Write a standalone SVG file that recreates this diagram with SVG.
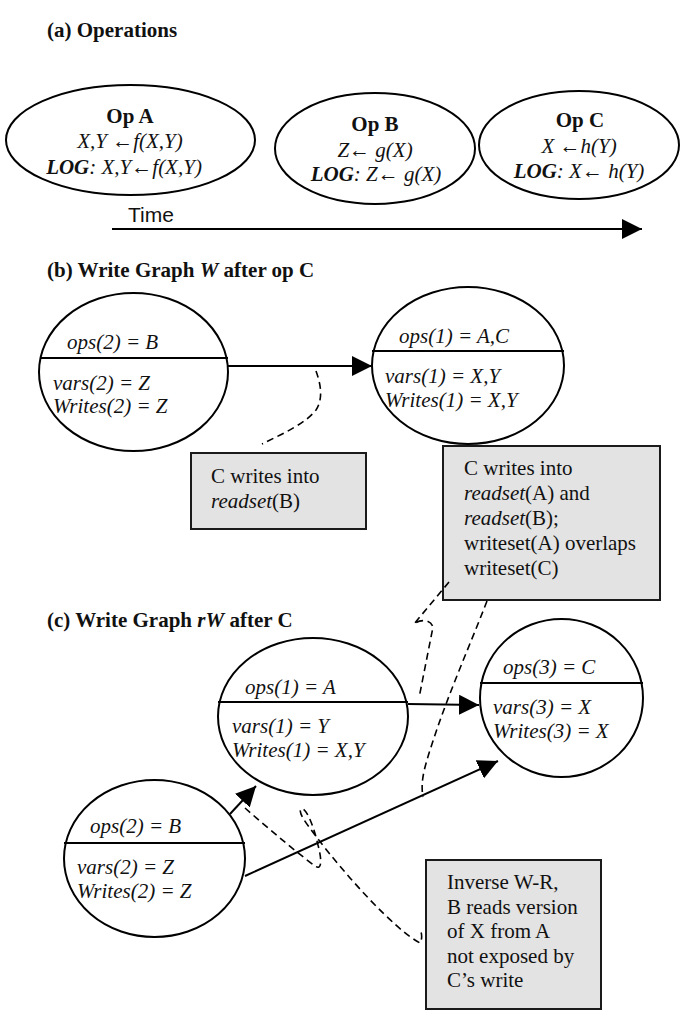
<svg xmlns="http://www.w3.org/2000/svg" width="694" height="1034" viewBox="0 0 694 1034">
<style>
.t{font-family:"Liberation Serif","Times New Roman",serif;font-size:21px;fill:#111}
.i{font-style:italic}
.b{font-weight:bold}
.m{text-anchor:middle}
.sans{font-family:"Liberation Sans",Arial,sans-serif;font-size:21px;fill:#111}
.shape{fill:#fff;stroke:#000;stroke-width:2}
.div{stroke:#000;stroke-width:2;fill:none}
.conn{stroke:#000;stroke-width:2;fill:none}
.dash{stroke:#000;stroke-width:1.6;fill:none;stroke-dasharray:7,4.5}
.box{fill:#e3e3e3;stroke:#1a1a1a;stroke-width:2}
</style>
<defs>
<marker id="ah" viewBox="0 0 20 20" refX="20" refY="10" markerWidth="20" markerHeight="20" markerUnits="userSpaceOnUse" orient="auto">
<path d="M0,0 L20,10 L0,20 z" fill="#000"/>
</marker>
</defs>
<rect width="694" height="1034" fill="#fff"/>

<text class="t b" x="47" y="37">(a) Operations</text>
<text class="t b" x="47" y="277">(b) Write Graph <tspan class="i">W</tspan> after op C</text>
<text class="t b" x="47" y="627">(c) Write Graph <tspan class="i">rW</tspan> after C</text>

<g id="opA">
<ellipse class="shape" cx="130.5" cy="140" rx="124.5" ry="55"/>
<text class="t b m" x="130" y="123">Op A</text>
<text class="t i m" x="130" y="148">X,Y ←f(X,Y)</text>
<text class="t i m" x="124" y="174"><tspan class="b">LOG</tspan>: X,Y←f(X,Y)</text>
</g>
<g id="opB">
<ellipse class="shape" cx="375" cy="148.5" rx="100" ry="55.5"/>
<text class="t b m" x="375" y="131">Op B</text>
<text class="t i m" x="375" y="157">Z← g(X)</text>
<text class="t i m" x="376" y="181"><tspan class="b">LOG</tspan>: Z←  g(X)</text>
</g>
<g id="opC">
<ellipse class="shape" cx="579" cy="145" rx="100" ry="54"/>
<text class="t b m" x="580" y="127">Op C</text>
<text class="t i m" x="579" y="153">X ←h(Y)</text>
<text class="t i m" x="579" y="178"><tspan class="b">LOG</tspan>: X← h(Y)</text>
</g>

<g id="time">
<text class="sans" x="128" y="222">Time</text>
</g>

<g id="b2">
<ellipse class="shape" cx="133.5" cy="372" rx="94.5" ry="79"/>
<line class="div" x1="40" y1="358" x2="228" y2="358"/>
<text class="t i" x="67" y="349">ops(2) = B</text>
<text class="t i" x="53" y="390">vars(2) = Z</text>
<text class="t i" x="53" y="413">Writes(2) = Z</text>
</g>
<g id="b1">
<ellipse class="shape" cx="468" cy="365.5" rx="96" ry="78.5"/>
<line class="div" x1="372" y1="351" x2="564" y2="351"/>
<text class="t i" x="399" y="343">ops(1) = A,C</text>
<text class="t i" x="385" y="383">vars(1) = X,Y</text>
<text class="t i" x="385" y="407">Writes(1) = X,Y</text>
</g>

<g id="c1">
<ellipse class="shape" cx="313" cy="716.5" rx="95" ry="78.5"/>
<line class="div" x1="218" y1="702" x2="408" y2="702"/>
<text class="t i" x="245" y="694">ops(1) = A</text>
<text class="t i" x="232" y="733">vars(1) = Y</text>
<text class="t i" x="232" y="757">Writes(1) = X,Y</text>
</g>
<g id="c3">
<ellipse class="shape" cx="561.5" cy="698" rx="81.5" ry="79"/>
<line class="div" x1="480" y1="683" x2="643" y2="683"/>
<text class="t i" x="503" y="674">ops(3) = C</text>
<text class="t i" x="493" y="714">vars(3) = X</text>
<text class="t i" x="493" y="738">Writes(3) = X</text>
</g>
<g id="c2">
<ellipse class="shape" cx="154.5" cy="858.5" rx="90.5" ry="78.5"/>
<line class="div" x1="64" y1="843" x2="245" y2="843"/>
<text class="t i" x="90" y="833">ops(2) = B</text>
<text class="t i" x="77" y="874">vars(2) = Z</text>
<text class="t i" x="77" y="898">Writes(2) = Z</text>
</g>

<g id="note1">
<rect class="box" x="191" y="453" width="175" height="76"/>
<text class="t" x="211" y="483">C writes into</text>
<text class="t" x="211" y="508"><tspan class="i">readset</tspan>(B)</text>
</g>
<g id="note2">
<rect class="box" x="443" y="446" width="217" height="154"/>
<text class="t" x="464" y="475">C writes into</text>
<text class="t" x="464" y="500"><tspan class="i">readset</tspan>(A) and</text>
<text class="t" x="464" y="525"><tspan class="i">readset</tspan>(B);</text>
<text class="t" x="464" y="550">writeset(A) overlaps</text>
<text class="t" x="464" y="575">writeset(C)</text>
</g>
<g id="note3">
<rect class="box" x="426" y="860" width="175" height="149"/>
<text class="t" x="447" y="889">Inverse W-R,</text>
<text class="t" x="447" y="914">B reads version</text>
<text class="t" x="447" y="938">of X from A</text>
<text class="t" x="447" y="963">not exposed by</text>
<text class="t" x="447" y="987">C’s write</text>
</g>

<g id="connectors">
<line class="conn" x1="112" y1="229" x2="642" y2="229" marker-end="url(#ah)"/>
<line class="conn" x1="228" y1="366" x2="372" y2="366" marker-end="url(#ah)"/>
<line class="conn" x1="408" y1="704" x2="479" y2="705" marker-end="url(#ah)"/>
<line class="conn" x1="245" y1="876" x2="498" y2="761" marker-end="url(#ah)"/>
<line class="conn" x1="230" y1="814" x2="256" y2="786" marker-end="url(#ah)"/>
<path class="dash" d="M316,371 C320,382 324,398 316,410 C305,424 282,434 262,444"/>
<path class="dash" d="M449,582 L414,624 C418,620 430,618 433,627 L419,698"/>
<path class="dash" d="M487,601 C470,645 450,690 435,735 C425,765 420,780 423,797"/>
<path class="dash" d="M245,808 C270,830 300,855 315,866 C322,871 322,860 318,845 C313,823 305,806 301,809 C298,812 305,822 315,835 C345,875 395,930 420,943 C422,940 422,935 421,932"/>
</g>
</svg>
